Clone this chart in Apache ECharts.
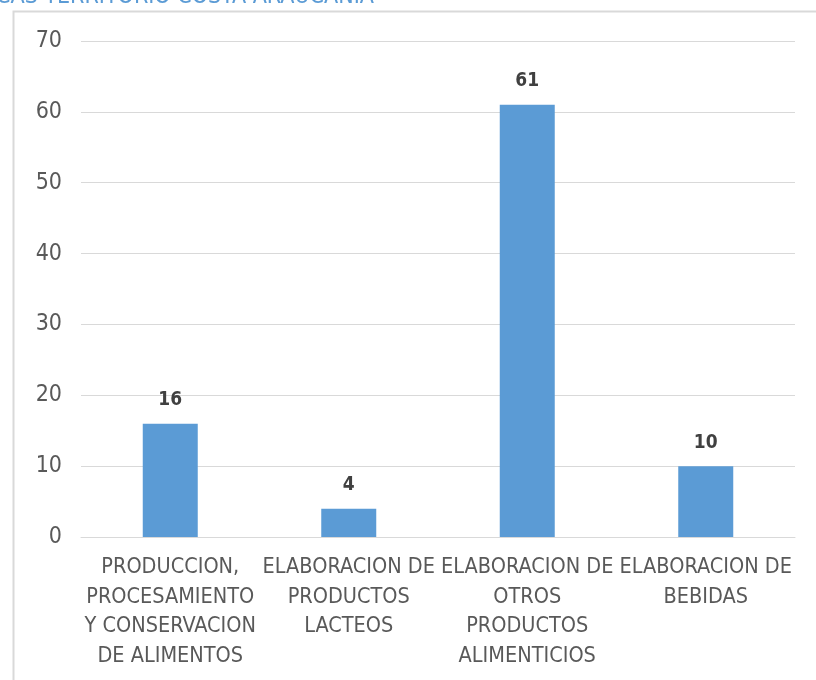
<!DOCTYPE html>
<html><head><meta charset="utf-8">
<script src="https://cdn.jsdelivr.net/npm/echarts@6/dist/echarts.min.js"></script>
<style>html,body{margin:0;padding:0;background:#fff}#c{width:816px;height:680px}</style>
</head><body><div id="c"></div>
<script>
const categories = [
  "PRODUCCION,\nPROCESAMIENTO\nY CONSERVACION\nDE ALIMENTOS",
  "ELABORACION DE\nPRODUCTOS\nLACTEOS",
  "ELABORACION DE\nOTROS\nPRODUCTOS\nALIMENTICIOS",
  "ELABORACION DE\nBEBIDAS"
];
const values = [16, 4, 61, 10];
const yTicks = {min: 0, max: 70, interval: 10};
const titleText = "ICAS TERRITORIO COSTA ARAUCANIA";

const chart = echarts.init(document.getElementById('c'));
chart.setOption({
  animation: false,
  graphic: [
    {type: 'rect', shape: {x: 13.5, y: 11.5, width: 900, height: 800},
     style: {fill: 'none', stroke: '#d9d9d9', lineWidth: 2}},
    {type: 'text', left: -10, top: -14,
     style: {text: titleText, fill: '#5b9bd5', font: '23px "DejaVu Sans Condensed", "Liberation Sans", sans-serif'}}
  ],
  grid: {left: 81, right: 21, top: 41, bottom: 143},
  xAxis: {
    type: 'category', data: categories,
    axisLine: {lineStyle: {color: '#d9d9d9'}},
    axisTick: {show: false},
    axisLabel: {interval: 0, color: '#595959', fontSize: 21.5, lineHeight: 29.5, margin: 16,
      fontFamily: '"DejaVu Sans Condensed", "Liberation Sans", sans-serif'}
  },
  yAxis: {
    type: 'value', min: yTicks.min, max: yTicks.max, interval: yTicks.interval,
    axisLine: {show: false}, axisTick: {show: false},
    splitLine: {lineStyle: {color: '#d9d9d9'}},
    axisLabel: {color: '#595959', fontSize: 23, margin: 19,
      fontFamily: '"DejaVu Sans Condensed", "Open Sans", sans-serif'}
  },
  series: [{
    type: 'bar', data: values, barWidth: 55,
    itemStyle: {color: '#5b9bd5'},
    label: {show: true, position: 'top', distance: 14, color: '#404040', fontWeight: 'bold', fontSize: 19,
      fontFamily: '"DejaVu Sans Condensed", "Open Sans", sans-serif'}
  }]
});
</script></body></html>
